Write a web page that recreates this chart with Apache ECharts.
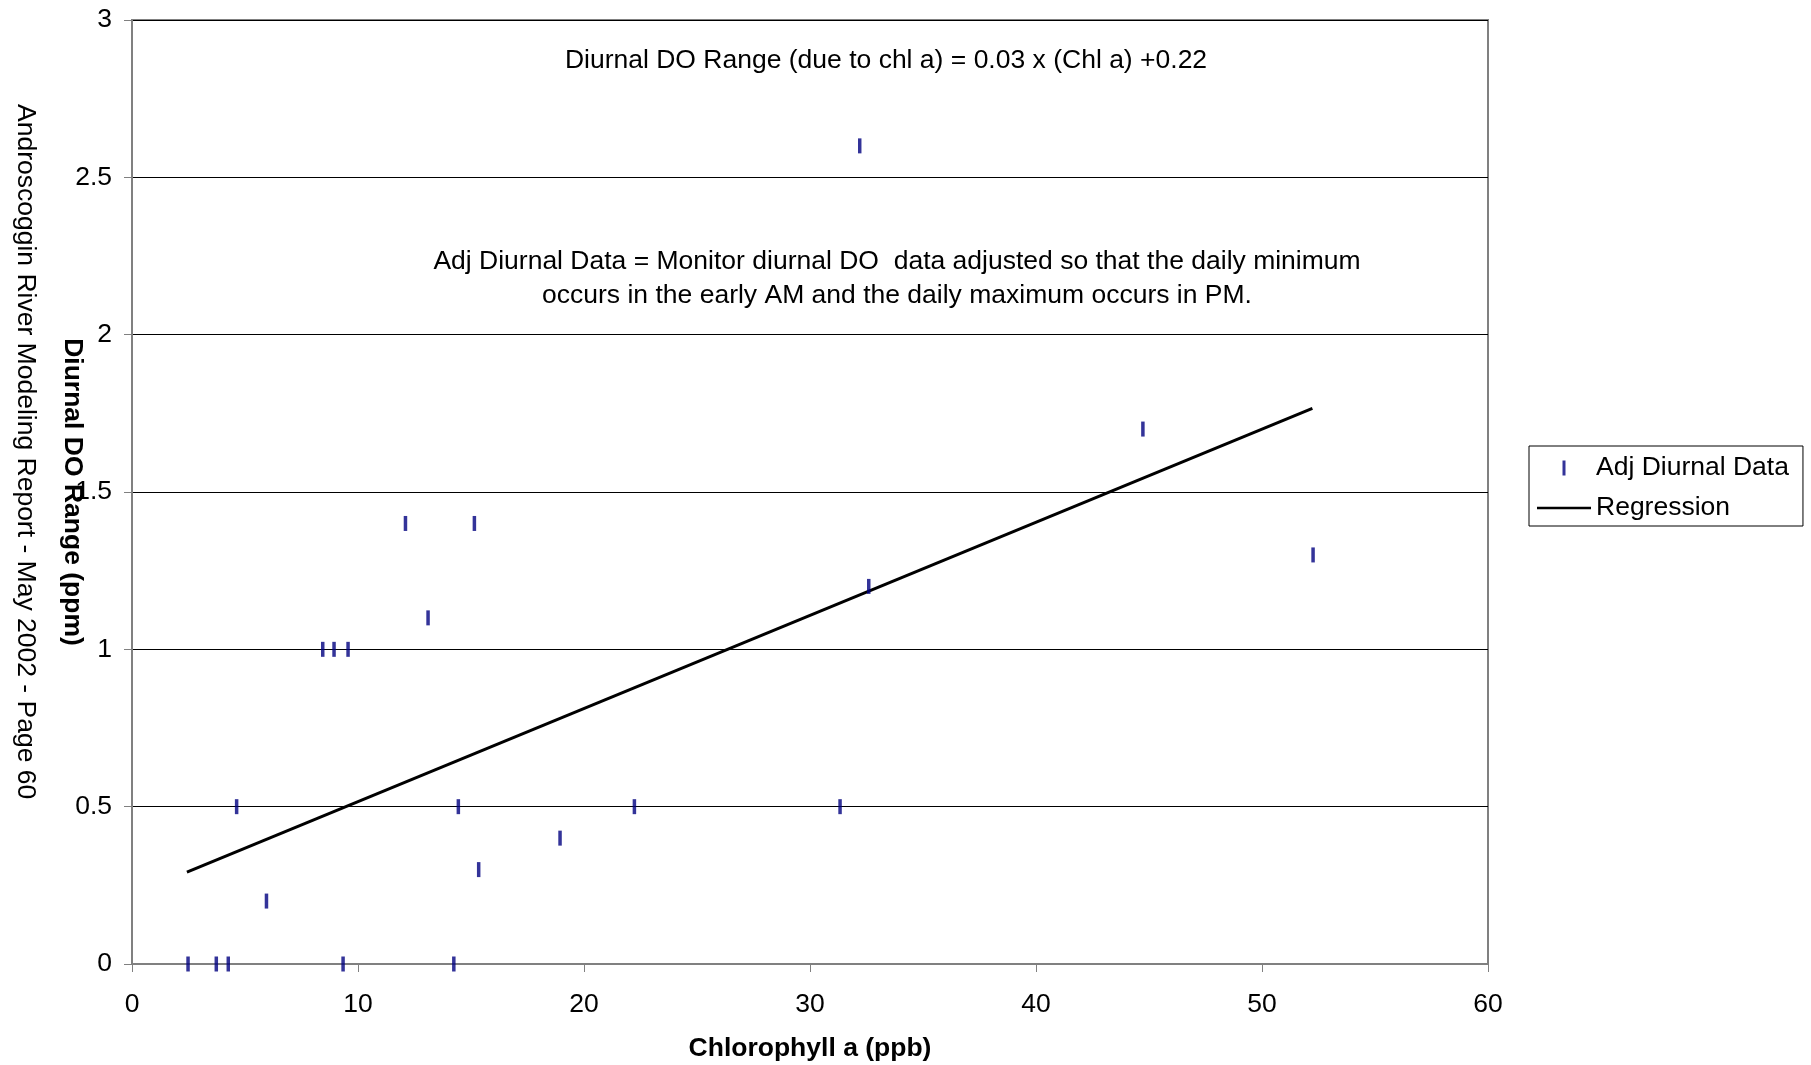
<!DOCTYPE html>
<html>
<head>
<meta charset="utf-8">
<script src="https://cdn.jsdelivr.net/npm/echarts@6/dist/echarts.min.js"></script>
<style>
html,body{margin:0;padding:0;background:#fff;}
#chart{width:1811px;height:1065px;}
</style>
</head>
<body>
<div id="chart"></div>
<script>
// Observed data: Chlorophyll a (ppb) vs Adjusted diurnal DO range (ppm)
var chlA = [2.48, 3.73, 4.26, 9.34, 14.24, 4.63, 14.44, 22.23, 31.33, 8.44, 8.94, 9.56, 13.1, 12.1, 15.15, 18.94, 15.34, 5.95, 32.6, 44.73, 52.26, 32.2];
var doRange = [0, 0, 0, 0, 0, 0.5, 0.5, 0.5, 0.5, 1.0, 1.0, 1.0, 1.1, 1.4, 1.4, 0.4, 0.3, 0.2, 1.2, 1.7, 1.3, 2.6];
// Regression line end points
var regX = [2.43, 52.23];
var regY = [0.292, 1.766];
var xTicks = [0, 10, 20, 30, 40, 50, 60];
var yTicks = [0, 0.5, 1, 1.5, 2, 2.5, 3];

var FONT = "'Liberation Sans', Arial, sans-serif";
var FS = 26.5;
var chart = echarts.init(document.getElementById('chart'));

var scatterData = chlA.map(function (x, i) { return [x, doRange[i]]; });
var regData = regX.map(function (x, i) { return [x, regY[i]]; });

var option = {
  backgroundColor: '#ffffff',
  animation: false,
  textStyle: { fontFamily: FONT },
  grid: {
    left: 132, top: 20, width: 1356, height: 944,
    outerBoundsMode: 'none',
    containLabel: false,
    show: true, borderColor: '#808080', borderWidth: 2, backgroundColor: 'transparent'
  },
  xAxis: {
    type: 'value',
    min: xTicks[0], max: xTicks[xTicks.length - 1], interval: 10,
    name: 'Chlorophyll a (ppb)',
    nameLocation: 'middle',
    nameGap: 71,
    nameMoveOverlap: false,
    nameTextStyle: { fontFamily: FONT, fontSize: FS, fontWeight: 'bold', color: '#000' },
    axisLine: { show: true, onZero: false, lineStyle: { color: '#808080', width: 2 } },
    axisTick: { show: true, inside: false, length: 8, lineStyle: { color: '#808080', width: 1 } },
    axisLabel: { fontFamily: FONT, fontSize: FS, color: '#000', margin: 27 },
    splitLine: { show: false }
  },
  yAxis: {
    type: 'value',
    min: yTicks[0], max: yTicks[yTicks.length - 1], interval: 0.5,
    name: 'Diurnal DO Range (ppm)',
    nameLocation: 'middle',
    nameRotate: -90,
    nameGap: 46,
    nameMoveOverlap: false,
    nameTextStyle: { fontFamily: FONT, fontSize: FS, fontWeight: 'bold', color: '#000' },
    axisLine: { show: true, onZero: false, lineStyle: { color: '#808080', width: 2 } },
    axisTick: { show: true, inside: false, length: 8, lineStyle: { color: '#808080', width: 1 } },
    axisLabel: { fontFamily: FONT, fontSize: FS, color: '#000', margin: 20 },
    splitLine: { show: true, lineStyle: { color: '#000', width: 1 } }
  },
  legend: {
    orient: 'vertical',
    left: 1529, top: 446,
    padding: [7, 14, 3, 8],
    itemGap: 10,
    itemWidth: 54, itemHeight: 15,
    borderColor: '#000', borderWidth: 1,
    backgroundColor: '#fff',
    textStyle: { fontFamily: FONT, fontSize: FS, color: '#000', lineHeight: 30 },
    data: [
      { name: 'Adj Diurnal Data', icon: 'path://M0,0 L3,0 L3,15 L0,15 Z' },
      { name: 'Regression', icon: 'path://M0,0 L54,0 L54,2.5 L0,2.5 Z', itemStyle: { color: '#000' } }
    ]
  },
  series: [
    {
      name: 'Regression',
      type: 'line',
      data: regData,
      showSymbol: false,
      symbol: 'none',
      lineStyle: { color: '#000', width: 3 },
      itemStyle: { color: '#000' },
      z: 2
    },
    {
      name: 'Adj Diurnal Data',
      type: 'scatter',
      data: scatterData,
      symbol: 'rect',
      symbolSize: [3.5, 15],
      itemStyle: { color: '#000080' },
      z: 3
    }
  ],
  graphic: [
    {
      type: 'text',
      left: 12, top: 104,
      rotation: -Math.PI / 2,
      style: {
        text: 'Androscoggin River Modeling Report - May 2002 - Page 60',
        font: FS + 'px ' + FONT,
        fill: '#000'
      }
    },
    {
      type: 'text',
      x: 886, y: 61,
      style: {
        text: 'Diurnal DO Range (due to chl a) = 0.03 x (Chl a) +0.22',
        font: FS + 'px ' + FONT,
        fill: '#000',
        align: 'center', verticalAlign: 'middle'
      }
    },
    {
      type: 'text',
      x: 897, y: 279,
      style: {
        text: 'Adj Diurnal Data = Monitor diurnal DO  data adjusted so that the daily minimum\noccurs in the early AM and the daily maximum occurs in PM.',
        font: FS + 'px ' + FONT,
        lineHeight: 34,
        fill: '#000',
        align: 'center', verticalAlign: 'middle'
      }
    }
  ]
};
chart.setOption(option);
</script>
</body>
</html>
